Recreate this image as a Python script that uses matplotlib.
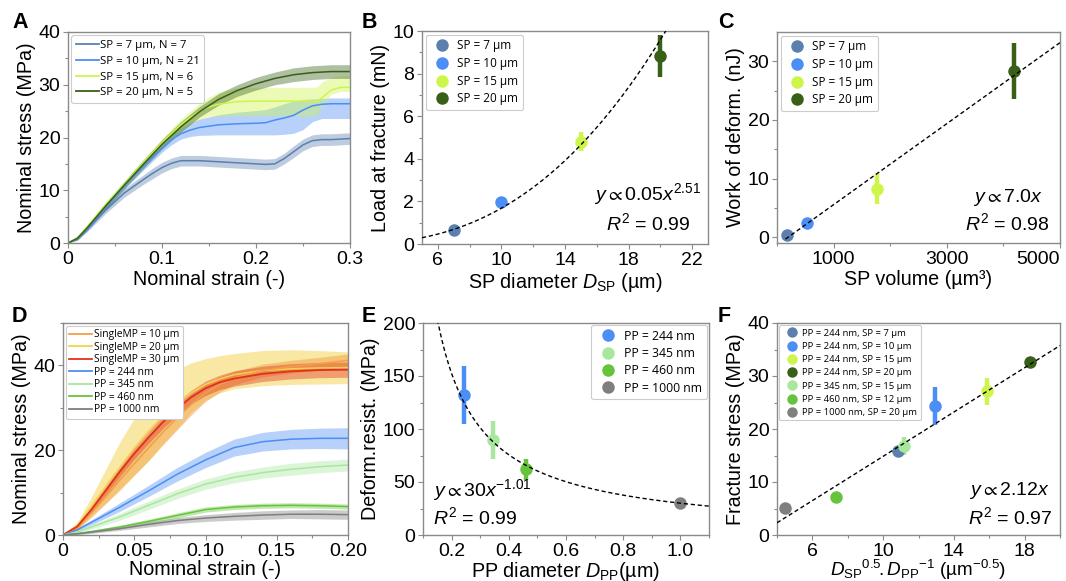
import numpy as np
import matplotlib
matplotlib.use("Agg")
import matplotlib.pyplot as plt
from matplotlib.lines import Line2D

plt.rcParams['font.family'] = ['Liberation Sans', 'DejaVu Sans']
plt.rcParams['mathtext.fontset'] = 'custom'
plt.rcParams['mathtext.rm'] = 'Liberation Sans'
plt.rcParams['mathtext.it'] = 'Liberation Sans:italic'
plt.rcParams['mathtext.bf'] = 'Liberation Sans:bold'
plt.rcParams['mathtext.fallback'] = 'stixsans'

# ---------------- colours ----------------
C_SP7 = '#5b80b0'
C_SP10 = '#4b8ef5'
C_SP15 = '#cdf54a'
C_SP20 = '#386017'
C_PP345 = '#a8e89e'
C_PP460 = '#66c43c'
C_GRAY = '#7f7f7f'
C_ORANGE = '#f0a048'
C_YELLOW = '#f5d24a'
C_RED = '#e0301e'

# ---------------- Panel A data ----------------
a_labels = ['SP = 7 µm, N = 7', 'SP = 10 µm, N = 21', 'SP = 15 µm, N = 6', 'SP = 20 µm, N = 5']
a_sp7_x = [0, 0.01, 0.02, 0.04, 0.06, 0.08, 0.09, 0.10, 0.11, 0.12, 0.14, 0.16, 0.18, 0.20, 0.21, 0.22, 0.23, 0.24, 0.25, 0.26, 0.27, 0.28, 0.30]
a_sp7_m = [0, 0.8, 2.5, 6.2, 9.5, 12.0, 13.2, 14.3, 15.1, 15.6, 15.6, 15.4, 15.2, 15.0, 14.9, 15.0, 16.0, 17.3, 18.6, 19.4, 19.6, 19.6, 19.8]
a_sp7_hw = [0, 0.2, 0.4, 0.6, 0.8, 0.9, 1.0, 1.0, 1.0, 1.0, 1.0, 1.0, 1.0, 1.0, 1.0, 1.0, 1.0, 1.1, 1.1, 1.1, 1.1, 1.1, 1.1]

a_sp10_x = [0, 0.01, 0.02, 0.04, 0.06, 0.08, 0.10, 0.11, 0.12, 0.13, 0.14, 0.16, 0.18, 0.20, 0.21, 0.22, 0.23, 0.24, 0.25, 0.26, 0.27, 0.28, 0.30]
a_sp10_m = [0, 0.8, 2.6, 6.8, 10.8, 14.6, 18.0, 19.6, 20.7, 21.4, 21.9, 22.4, 22.6, 22.7, 22.8, 23.3, 23.7, 24.2, 25.2, 26.0, 26.3, 26.4, 26.4]
a_sp10_lo = [0, 0.5, 2.2, 6.3, 10.2, 13.8, 17.2, 18.6, 19.7, 20.2, 20.4, 20.5, 20.5, 20.5, 20.5, 20.5, 20.6, 20.8, 21.5, 23.0, 23.6, 23.6, 23.6]
a_sp10_hi = [0, 1.1, 3.0, 7.3, 11.4, 15.4, 18.8, 20.6, 21.8, 22.8, 23.5, 24.3, 24.8, 25.1, 25.3, 25.8, 26.4, 26.9, 27.2, 27.3, 27.4, 27.5, 27.5]

a_sp15_x = [0, 0.01, 0.02, 0.04, 0.06, 0.08, 0.10, 0.12, 0.13, 0.14, 0.15, 0.16, 0.18, 0.20, 0.22, 0.24, 0.26, 0.265, 0.27, 0.28, 0.29, 0.30]
a_sp15_m = [0, 1.0, 3.0, 7.3, 11.2, 15.2, 19.0, 22.4, 23.8, 25.0, 25.8, 26.3, 26.8, 26.9, 26.9, 26.9, 26.8, 26.8, 27.5, 29.0, 29.5, 29.5]
a_sp15_lo = [0, 0.7, 2.6, 6.8, 10.6, 14.5, 18.2, 21.3, 22.6, 23.5, 24.0, 24.1, 24.1, 24.1, 24.1, 24.1, 24.1, 24.2, 26.0, 28.2, 28.7, 28.7]
a_sp15_hi = [0, 1.3, 3.4, 7.8, 11.8, 15.9, 19.8, 23.5, 25.0, 26.5, 27.6, 28.6, 29.4, 29.5, 29.5, 29.5, 29.5, 29.6, 30.5, 31.4, 31.7, 31.7]

a_sp20_x = [0, 0.01, 0.02, 0.04, 0.06, 0.08, 0.10, 0.12, 0.14, 0.16, 0.18, 0.20, 0.22, 0.24, 0.26, 0.28, 0.30]
a_sp20_m = [0, 0.9, 2.8, 7.0, 11.0, 14.9, 18.7, 22.0, 24.9, 27.2, 28.9, 30.2, 31.2, 31.9, 32.3, 32.5, 32.5]
a_sp20_hw = [0, 0.3, 0.4, 0.6, 0.7, 0.8, 0.9, 1.0, 1.0, 1.1, 1.1, 1.2, 1.2, 1.3, 1.3, 1.3, 1.3]

# ---------------- Panel B data ----------------
b_labels = ['SP = 7 µm', 'SP = 10 µm', 'SP = 15 µm', 'SP = 20 µm']
b_diam = [7, 10, 15, 20]
b_load = [0.64, 1.95, 4.8, 8.83]
b_err = [0.08, 0.1, 0.45, 1.0]
b_fit_coef = 0.0052
b_fit_exp = 2.51

# ---------------- Panel C data ----------------
c_volume = [180, 524, 1767, 4189]
c_work = [0.3, 2.4, 8.2, 28.4]
c_err = [0.3, 0.8, 2.6, 4.8]
c_fit_slope = 0.00691
c_fit_icpt = -1.37

# ---------------- Panel D data ----------------
d_labels = ['SingleMP = 10 µm', 'SingleMP = 20 µm', 'SingleMP = 30 µm', 'PP = 244 nm', 'PP = 345 nm', 'PP = 460 nm', 'PP = 1000 nm']
d_mp_x = [0, 0.01, 0.02, 0.03, 0.04, 0.05, 0.06, 0.07, 0.08, 0.09, 0.10, 0.11, 0.12, 0.14, 0.16, 0.18, 0.20]
d_mp10_m = [0, 1.7, 5.2, 9.0, 13.0, 16.8, 20.5, 24.2, 27.6, 30.8, 33.5, 35.5, 37.0, 38.8, 39.7, 40.4, 41.2]
d_mp10_hw = [0, 0.5, 1.0, 1.6, 2.2, 2.6, 3.0, 3.0, 2.8, 2.5, 2.0, 1.8, 1.6, 1.5, 1.5, 1.5, 1.5]
d_mp20_m = [0, 2.2, 6.8, 11.5, 16.0, 20.5, 24.5, 28.0, 31.0, 33.5, 35.5, 36.8, 37.8, 38.8, 39.2, 39.4, 39.5]
d_mp20_lo = [0, 1.4, 4.6, 7.5, 10.5, 14.0, 17.5, 21.5, 25.0, 29.0, 31.8, 33.5, 34.5, 35.2, 35.5, 35.6, 35.7]
d_mp20_hi = [0, 3.0, 9.0, 15.5, 22.0, 27.5, 32.5, 36.5, 39.0, 40.6, 41.6, 42.3, 42.8, 43.5, 43.7, 43.5, 43.2]
d_mp30_m = [0, 2.0, 6.0, 10.5, 15.0, 19.2, 23.0, 26.6, 29.8, 32.5, 34.6, 36.0, 36.9, 38.0, 38.6, 38.9, 39.0]
d_mp30_hw = [0, 0.4, 0.8, 1.0, 1.2, 1.3, 1.4, 1.5, 1.6, 1.6, 1.7, 1.7, 1.8, 1.8, 1.8, 1.8, 1.8]

d_pp_x = [0, 0.01, 0.02, 0.04, 0.06, 0.08, 0.10, 0.12, 0.14, 0.16, 0.18, 0.20]
d_pp244_m = [0, 1.2, 3.0, 6.6, 10.4, 14.3, 17.7, 20.6, 22.0, 22.6, 22.8, 22.8]
d_pp244_hw = [0, 0.3, 0.6, 1.0, 1.3, 1.6, 1.8, 2.0, 2.2, 2.3, 2.4, 2.5]
d_pp345_m = [0, 0.7, 1.9, 4.3, 7.0, 9.7, 12.0, 13.6, 14.7, 15.5, 16.1, 16.5]
d_pp345_hw = [0, 0.3, 0.5, 0.8, 1.0, 1.1, 1.2, 1.3, 1.3, 1.4, 1.4, 1.4]
d_pp460_m = [0, 0.3, 0.8, 1.9, 3.2, 4.6, 6.0, 6.6, 6.9, 7.0, 6.9, 6.7]
d_pp460_hw = [0, 0.2, 0.3, 0.4, 0.5, 0.6, 0.6, 0.6, 0.6, 0.6, 0.6, 0.6]
d_pp1000_m = [0, 0.3, 0.7, 1.5, 2.5, 3.4, 4.0, 4.4, 4.7, 4.9, 4.9, 4.8]
d_pp1000_hw = [0, 0.2, 0.3, 0.4, 0.6, 0.7, 0.8, 0.9, 1.0, 1.0, 1.1, 1.1]

# ---------------- Panel E data ----------------
e_labels = ['PP = 244 nm', 'PP = 345 nm', 'PP = 460 nm', 'PP = 1000 nm']
e_diam = [0.244, 0.345, 0.46, 1.0]
e_res = [132, 90, 62, 30]
e_err = [27, 18, 10, 2]
e_fit_coef = 30
e_fit_exp = -1.01

# ---------------- Panel F data ----------------
f_labels = ['PP = 244 nm, SP = 7 µm', 'PP = 244 nm, SP = 10 µm', 'PP = 244 nm, SP = 15 µm',
            'PP = 244 nm, SP = 20 µm', 'PP = 345 nm, SP = 15 µm', 'PP = 460 nm, SP = 12 µm',
            'PP = 1000 nm, SP = 20 µm']
f_x = [10.84, 12.96, 15.87, 18.33, 11.2, 7.36, 4.47]
f_y = [15.8, 24.4, 27.1, 32.6, 16.8, 7.15, 5.06]
f_err = [0.6, 3.6, 2.6, 0.8, 1.7, 0.4, 0.3]
f_fit_slope = 2.09
f_fit_icpt = -6.06

# ---------------- figure ----------------
fig = plt.figure(figsize=(10.66, 5.81), dpi=100)
W, H = 1066, 581


def add_ax(l, r, t, b):
    return fig.add_axes([l / W, 1 - b / H, (r - l) / W, (b - t) / H])


axA = add_ax(68, 350, 32, 243)
axB = add_ax(422, 708, 31, 244)
axC = add_ax(777, 1060, 32, 243)
axD = add_ax(63, 348, 323, 535)
axE = add_ax(423, 709, 323, 535)
axF = add_ax(777, 1060, 323, 535)

SPINE = '#8a8a8a'
TICK_FS = 14
LAB_FS = 14.2
ANN_FS = 14
LEG_FONT = ['Open Sans', 'DejaVu Sans']


def style(ax):
    for s in ax.spines.values():
        s.set_color(SPINE)
        s.set_linewidth(1.0)
    ax.tick_params(which='both', direction='out', color=SPINE, width=0.8, labelsize=TICK_FS, pad=2)
    ax.tick_params(which='major', length=3.5)
    ax.tick_params(which='minor', length=2.5)


def band(ax, x, m, lo, hi, c, alpha=0.4, lw=1.1):
    ax.fill_between(x, lo, hi, color=c, alpha=alpha, lw=0)
    ax.plot(x, m, color=c, lw=lw)


def legend(ax, handles, labels, loc, fs, **kw):
    lg = ax.legend(handles, labels, loc=loc, prop={'family': LEG_FONT, 'size': fs},
                   frameon=True, fancybox=True, edgecolor='#cccccc', framealpha=1.0, **kw)
    lg.get_frame().set_linewidth(0.8)
    return lg


# ---- Panel A ----
ax = axA
style(ax)
m = np.array(a_sp7_m); hw = np.array(a_sp7_hw)
band(ax, a_sp7_x, m, m - hw, m + hw, C_SP7)
band(ax, a_sp10_x, a_sp10_m, a_sp10_lo, a_sp10_hi, C_SP10)
band(ax, a_sp15_x, a_sp15_m, a_sp15_lo, a_sp15_hi, C_SP15)
m = np.array(a_sp20_m); hw = np.array(a_sp20_hw)
band(ax, a_sp20_x, m, m - hw, m + hw, C_SP20)
ax.set_xlim(0, 0.3)
ax.set_ylim(0, 40)
ax.set_xticks([0, 0.1, 0.2, 0.3])
ax.set_xticklabels(['0', '0.1', '0.2', '0.3'])
ax.set_xticks([0.05, 0.15, 0.25], minor=True)
ax.set_yticks([0, 10, 20, 30, 40])
ax.set_yticks([5, 15, 25, 35], minor=True)
ax.set_xlabel('Nominal strain (-)', fontsize=LAB_FS, labelpad=2)
ax.set_ylabel('Nominal stress (MPa)', fontsize=LAB_FS, labelpad=2)
hs = [Line2D([], [], color=c, lw=1.3) for c in [C_SP7, C_SP10, C_SP15, C_SP20]]
legend(ax, hs, a_labels, 'upper left', 8.2, handlelength=2.0, handletextpad=0.1,
       labelspacing=0.42, borderpad=0.4, borderaxespad=0.3)

# ---- Panel B ----
ax = axB
style(ax)
xs = np.linspace(5, 23, 200)
ax.plot(xs, b_fit_coef * xs ** b_fit_exp, 'k--', lw=1.0, dashes=(3, 2), zorder=3)
b_cols = [C_SP7, C_SP10, C_SP15, C_SP20]
for i in range(4):
    ax.errorbar(b_diam[i], b_load[i], yerr=b_err[i], fmt='o', color=b_cols[i], ms=9,
                elinewidth=3.2, capsize=0, mew=0, zorder=2)
ax.set_xlim(5, 23)
ax.set_ylim(0, 10)
ax.set_xticks([6, 10, 14, 18, 22])
ax.set_xticks([8, 12, 16, 20], minor=True)
ax.set_yticks([0, 2, 4, 6, 8, 10])
ax.set_yticks([1, 3, 5, 7, 9], minor=True)
ax.set_xlabel(r'SP diameter $D_{\mathrm{SP}}$ (µm)', fontsize=LAB_FS, labelpad=2)
ax.set_ylabel('Load at fracture (mN)', fontsize=LAB_FS, labelpad=2)
ax.text(0.79, 0.235, r'$y \propto 0.05x^{2.51}$', transform=ax.transAxes, ha='center', va='center', fontsize=ANN_FS)
ax.text(0.79, 0.10, r'$R^2$ = 0.99', transform=ax.transAxes, ha='center', va='center', fontsize=ANN_FS)
hs = [Line2D([], [], color=c, marker='o', ls='none', ms=9, mew=0) for c in b_cols]
legend(ax, hs, b_labels, 'upper left', 8.5, handletextpad=0.3, labelspacing=0.4,
       borderpad=0.4, borderaxespad=0.3)

# ---- Panel C ----
ax = axC
style(ax)
xs = np.linspace(150, 5000, 50)
ax.plot(xs, c_fit_slope * xs + c_fit_icpt, 'k--', lw=1.0, dashes=(3, 2), zorder=3)
for i in range(4):
    ax.errorbar(c_volume[i], c_work[i], yerr=c_err[i], fmt='o', color=b_cols[i], ms=9,
                elinewidth=3.2, capsize=0, mew=0, zorder=2)
ax.set_xlim(0, 5000)
ax.set_ylim(-1, 35)
ax.set_xticks([1000, 3000, 5000])
ax.set_xticks([0, 2000, 4000], minor=True)
ax.get_xticklabels()[-1].set_horizontalalignment('right')
ax.set_yticks([0, 10, 20, 30])
ax.set_yticks([5, 15, 25], minor=True)
ax.set_xlabel('SP volume (µm³)', fontsize=LAB_FS, labelpad=2)
ax.set_ylabel('Work of deform. (nJ)', fontsize=LAB_FS, labelpad=2)
ax.text(0.815, 0.218, r'$y \propto 7.0x$', transform=ax.transAxes, ha='center', va='center', fontsize=ANN_FS)
ax.text(0.815, 0.095, r'$R^2$ = 0.98', transform=ax.transAxes, ha='center', va='center', fontsize=ANN_FS)
legend(ax, hs, b_labels, 'upper left', 8.5, handletextpad=0.3, labelspacing=0.4,
       borderpad=0.4, borderaxespad=0.3)

# ---- Panel D ----
ax = axD
style(ax)
m = np.array(d_mp20_m)
band(ax, d_mp_x, m, d_mp20_lo, d_mp20_hi, C_YELLOW, alpha=0.5)
m = np.array(d_mp10_m); hw = np.array(d_mp10_hw)
band(ax, d_mp_x, m, m - hw, m + hw, C_ORANGE, alpha=0.5)
m = np.array(d_mp30_m); hw = np.array(d_mp30_hw)
band(ax, d_mp_x, m, m - hw, m + hw, C_RED, alpha=0.4, lw=1.3)
for mm, hh, c in [(d_pp244_m, d_pp244_hw, C_SP10), (d_pp345_m, d_pp345_hw, C_PP345),
                  (d_pp460_m, d_pp460_hw, C_PP460), (d_pp1000_m, d_pp1000_hw, C_GRAY)]:
    mm = np.array(mm); hh = np.array(hh)
    band(ax, d_pp_x, mm, mm - hh, mm + hh, c, alpha=0.4)
ax.set_xlim(0, 0.2)
ax.set_ylim(0, 50)
ax.set_xticks([0, 0.05, 0.10, 0.15, 0.20])
ax.set_xticklabels(['0', '0.05', '0.10', '0.15', '0.20'])
ax.set_xticks([0.025, 0.075, 0.125, 0.175], minor=True)
ax.set_yticks([0, 20, 40])
ax.set_yticks([10, 30, 50], minor=True)
ax.set_xlabel('Nominal strain (-)', fontsize=LAB_FS, labelpad=0)
ax.set_ylabel('Nominal stress (MPa)', fontsize=LAB_FS, labelpad=2)
hs = [Line2D([], [], color=c, lw=1.3) for c in [C_ORANGE, C_YELLOW, C_RED, C_SP10, C_PP345, C_PP460, C_GRAY]]
legend(ax, hs, d_labels, 'upper left', 7.4, handlelength=2.2, handletextpad=0.2,
       labelspacing=0.15, borderpad=0.35, borderaxespad=0.25)

# ---- Panel E ----
ax = axE
style(ax)
xs = np.linspace(0.1, 1.1, 300)
ax.plot(xs, e_fit_coef * xs ** e_fit_exp, 'k--', lw=1.0, dashes=(3, 2), zorder=3)
e_cols = [C_SP10, C_PP345, C_PP460, C_GRAY]
for i in range(4):
    ax.errorbar(e_diam[i], e_res[i], yerr=e_err[i], fmt='o', color=e_cols[i], ms=9,
                elinewidth=3.2, capsize=0, mew=0, zorder=2)
ax.set_xlim(0.1, 1.1)
ax.set_ylim(0, 200)
ax.set_xticks([0.2, 0.4, 0.6, 0.8, 1.0])
ax.set_xticks([0.1, 0.3, 0.5, 0.7, 0.9, 1.1], minor=True)
ax.set_yticks([0, 50, 100, 150, 200])
ax.set_yticks([25, 75, 125, 175], minor=True)
ax.set_xlabel(r'PP diameter $D_{\mathrm{PP}}$(µm)', fontsize=LAB_FS, labelpad=0)
ax.set_ylabel('Deform.resist. (MPa)', fontsize=LAB_FS, labelpad=2)
ax.text(0.035, 0.21, r'$y \propto 30x^{-1.01}$', transform=ax.transAxes, ha='left', va='center', fontsize=ANN_FS)
ax.text(0.035, 0.085, r'$R^2$ = 0.99', transform=ax.transAxes, ha='left', va='center', fontsize=ANN_FS)
hs = [Line2D([], [], color=c, marker='o', ls='none', ms=9, mew=0) for c in e_cols]
legend(ax, hs, e_labels, 'upper right', 8.8, handletextpad=0.3, labelspacing=0.35,
       borderpad=0.4, borderaxespad=0.15)

# ---- Panel F ----
ax = axF
style(ax)
xs = np.linspace(4, 20, 50)
ax.plot(xs, f_fit_slope * xs + f_fit_icpt, 'k--', lw=1.0, dashes=(3, 2), zorder=3)
f_cols = [C_SP7, C_SP10, C_SP15, C_SP20, C_PP345, C_PP460, C_GRAY]
for i in range(7):
    ax.errorbar(f_x[i], f_y[i], yerr=f_err[i], fmt='o', color=f_cols[i], ms=9,
                elinewidth=3.2, capsize=0, mew=0, zorder=2)
ax.set_xlim(4, 20)
ax.set_ylim(0, 40)
ax.set_xticks([6, 10, 14, 18])
ax.set_xticks([4, 8, 12, 16, 20], minor=True)
ax.set_yticks([0, 10, 20, 30, 40])
ax.set_yticks([5, 15, 25, 35], minor=True)
ax.set_xlabel(r'${D_{\mathrm{SP}}}^{0.5}\!.{D_{\mathrm{PP}}}^{-1}$ (µm$^{-0.5}$)', fontsize=13.6, labelpad=-1.5)
ax.set_ylabel('Fracture stress (MPa)', fontsize=LAB_FS, labelpad=2)
ax.text(0.823, 0.212, r'$y \propto 2.12x$', transform=ax.transAxes, ha='center', va='center', fontsize=ANN_FS)
ax.text(0.823, 0.085, r'$R^2$ = 0.97', transform=ax.transAxes, ha='center', va='center', fontsize=ANN_FS)
hs = [Line2D([], [], color=c, marker='o', ls='none', ms=7.5, mew=0) for c in f_cols]
legend(ax, hs, f_labels, 'upper left', 6.8, handletextpad=0.1, labelspacing=0.45,
       borderpad=0.35, borderaxespad=0.25)

# ---- panel letters ----
for lab, x, y in [('A', 12, 28), ('B', 362, 28), ('C', 718, 28),
                  ('D', 12, 322), ('E', 362, 322), ('F', 718, 322)]:
    fig.text(x / W, 1 - y / H, lab, fontsize=15.5, fontweight='bold', ha='left', va='baseline')

fig.savefig('out.png', dpi=100)
